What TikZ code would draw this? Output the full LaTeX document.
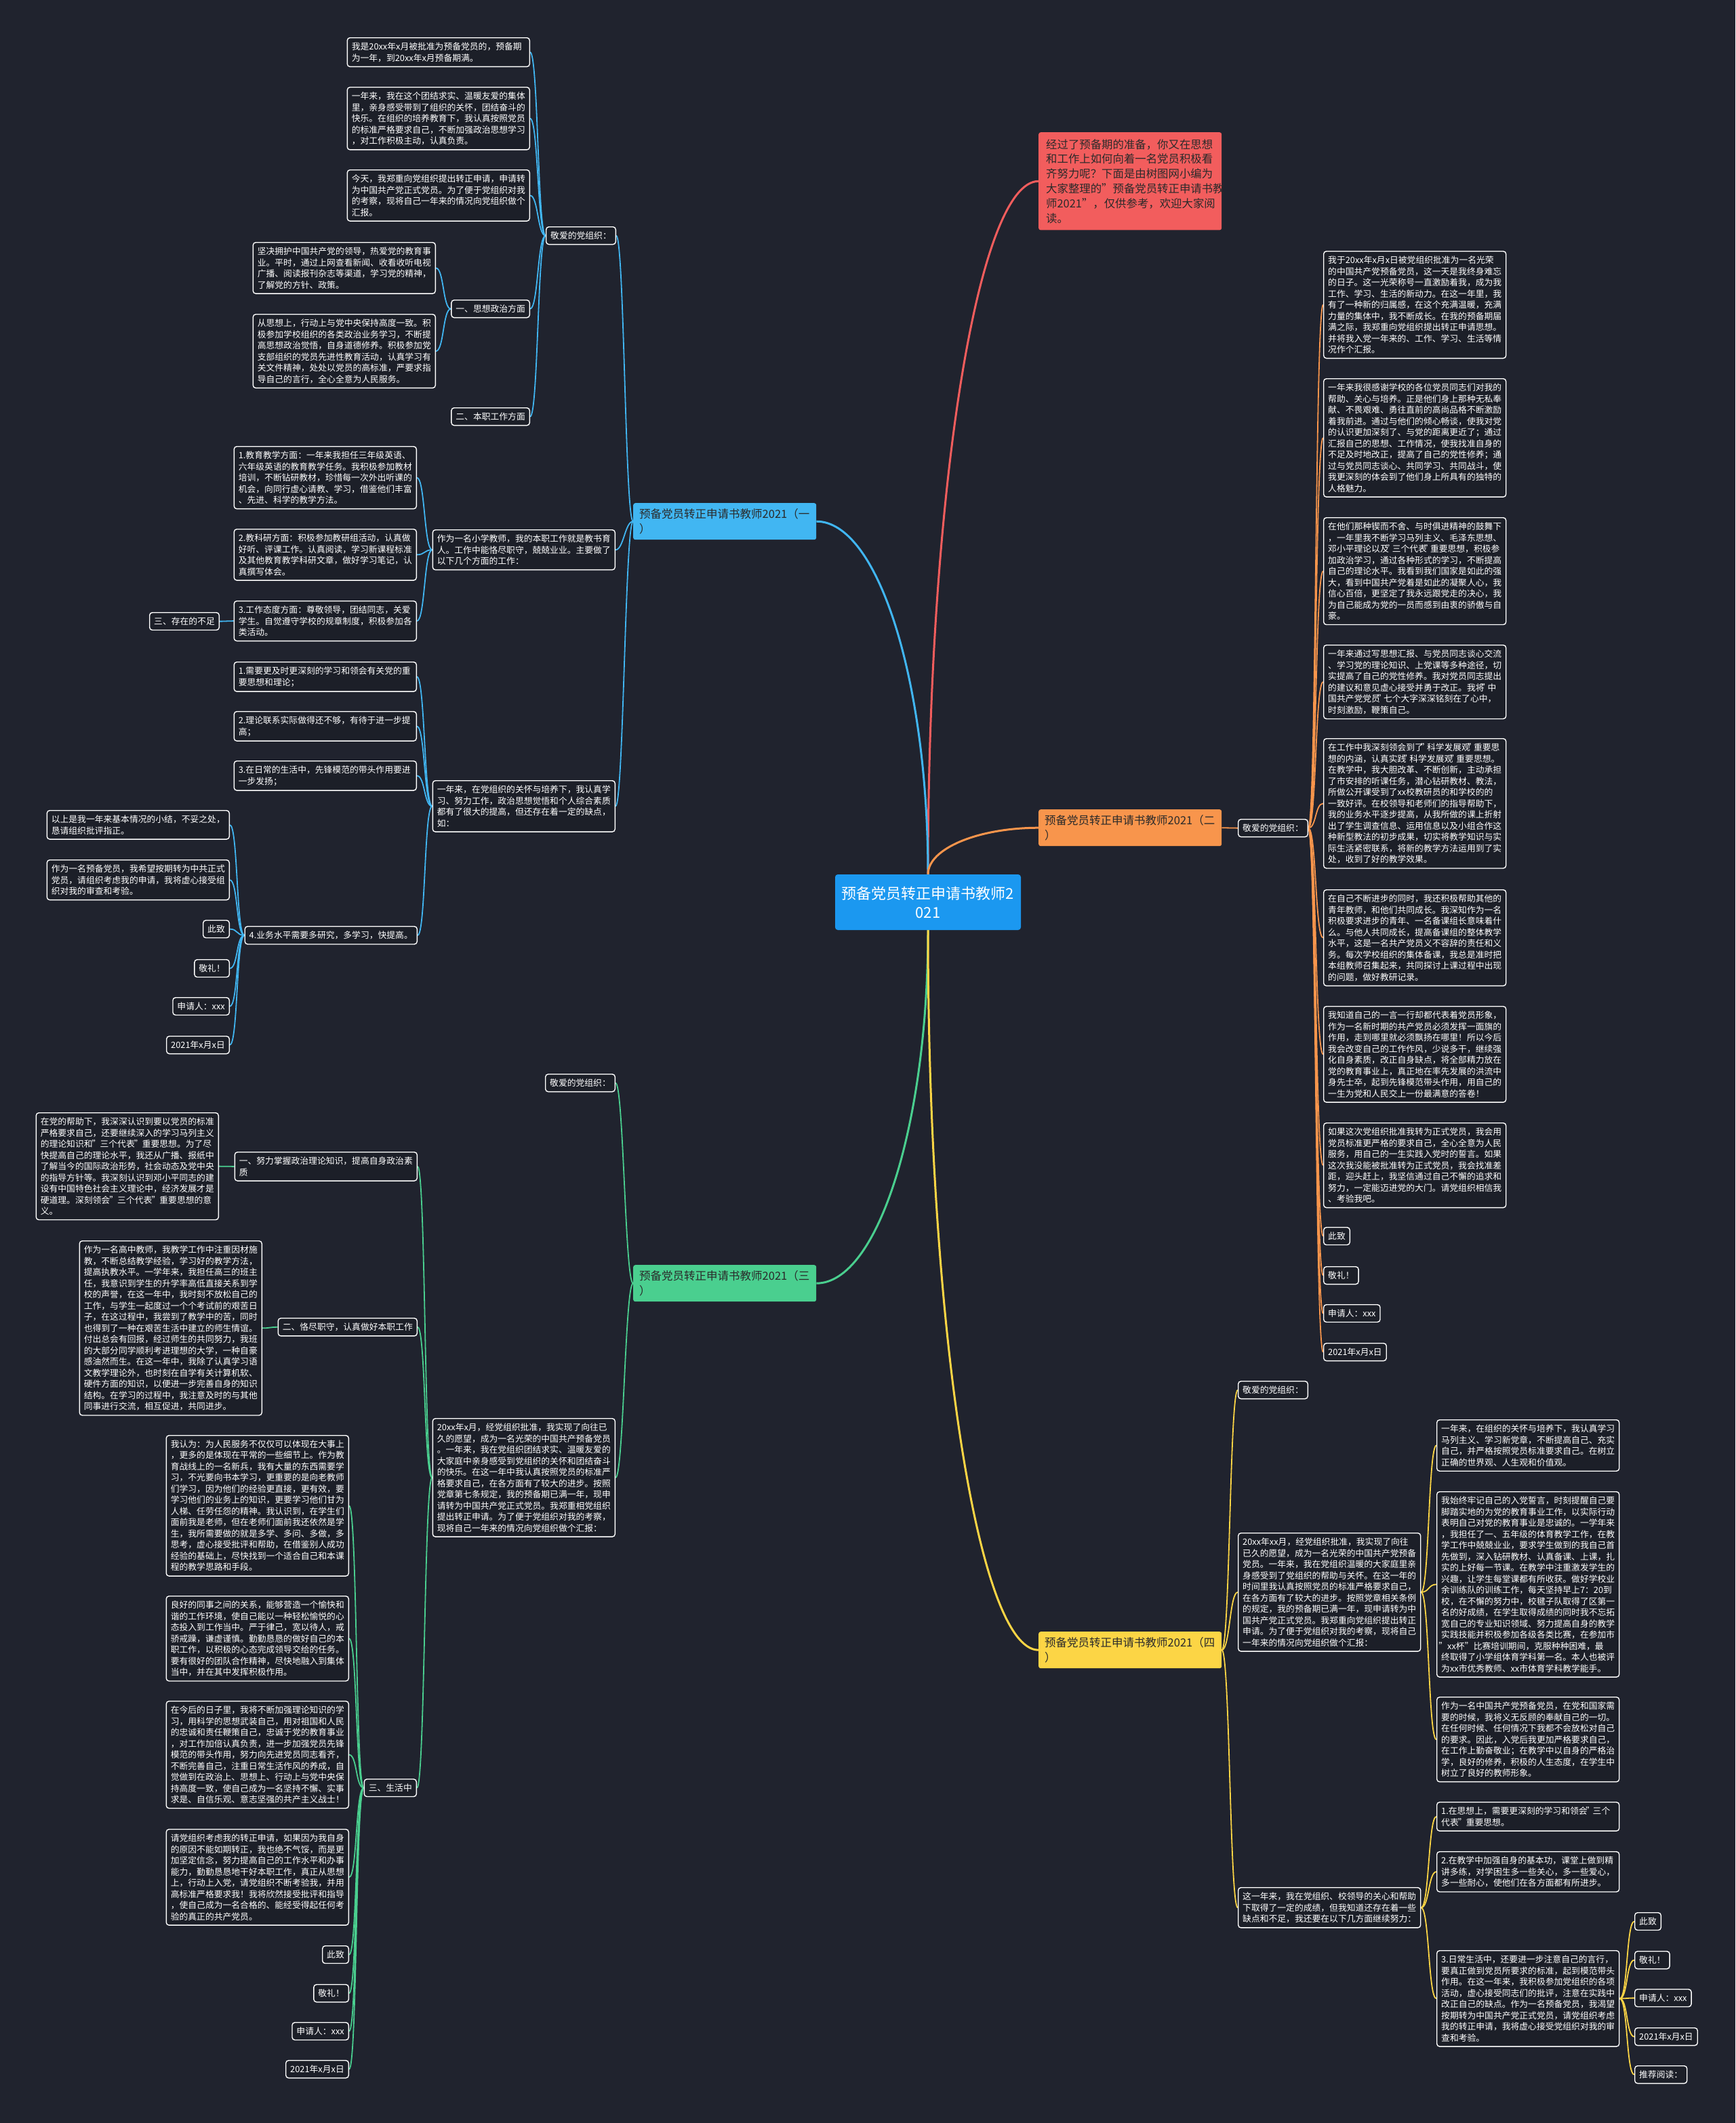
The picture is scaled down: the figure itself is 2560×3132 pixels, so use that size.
\documentclass[tikz,border=0pt]{standalone}
\usepackage{fontspec}
\setmainfont{Noto Sans CJK SC}
\usetikzlibrary{calc,backgrounds}
\definecolor{bgc}{HTML}{20232E}
\definecolor{boxc}{HTML}{1C1F28}
\definecolor{rootc}{HTML}{1B98F0}
\definecolor{bluel}{HTML}{41B6F2}
\definecolor{orangel}{HTML}{F8954C}
\definecolor{greenl}{HTML}{4ACF8F}
\definecolor{yellowl}{HTML}{FCD545}
\definecolor{redl}{HTML}{F25D5D}
\definecolor{darkt}{HTML}{2A2A2A}
\newcommand\dq{\makebox[5pt][c]{"}}
\newcommand\lnkL[3]{\draw[wire,#1] (#2.west) .. controls +(-12,0) and +(12,0) .. (#3.east);}
\newcommand\lnkR[3]{\draw[wire,#1] (#2.east) .. controls +(12,0) and +(-12,0) .. (#3.west);}
\newcommand\trunkln[3]{\draw[trunkw,#1] (#2) .. controls ($(#2)!.55!(#2|-#3)$) and ($(#3)!.55!(#2|-#3)$) .. (#3);}

\begin{document}
\begin{tikzpicture}[x=1pt, y=-1pt,
  leafbox/.style={draw=white, line width=1.4pt, fill=boxc, text=white, rounded corners=4pt, align=left, inner xsep=6.5pt, inner ysep=7pt, font=\fontsize{12.8}{16.5}\selectfont},
  parabox/.style={leafbox, text width=256pt},
  brbox/.style={rounded corners=3pt, text=darkt, align=left, text width=252pt, inner xsep=9pt, inner ysep=7.5pt, minimum height=54pt, font=\fontsize{16.5}{22}\selectfont},
  rootbox/.style={fill=rootc, text=white, rounded corners=4pt, align=center, minimum width=274pt, minimum height=82pt, font=\fontsize{22}{28}\selectfont},
  wire/.style={line width=1.8pt},
  trunkw/.style={line width=3pt}]

\node[rootbox] (root) at (1369,1331) {预备党员转正申请书教师2\\021};
\node[brbox, fill=redl, text width=248pt, inner xsep=11pt, inner ysep=10pt, font=\fontsize{16.4}{21.8}\selectfont, anchor=north west] (intro) at (1532,195) {经过了预备期的准备，你又在思想\\和工作上如何向着一名党员积极看\\齐努力呢？下面是由树图网小编为\\大家整理的"预备党员转正申请书教\\师2021"，仅供参考，欢迎大家阅\\读。};
\node[brbox, fill=bluel, anchor=north west] (b1) at (934,742) {预备党员转正申请书教师2021（一\\）};
\node[brbox, fill=orangel, anchor=north west] (b2) at (1532,1194) {预备党员转正申请书教师2021（二\\）};
\node[brbox, fill=greenl, anchor=north west] (b3) at (934,1866) {预备党员转正申请书教师2021（三\\）};
\node[brbox, fill=yellowl, anchor=north west] (b4) at (1532,2407) {预备党员转正申请书教师2021（四\\）};

\node[leafbox, anchor=north east] (b1dear) at (909,334) {敬爱的党组织：};
\node[parabox, anchor=north east] (b1p1) at (782,55) {我是20xx年x月被批准为预备党员的，预备期\\为一年，到20xx年x月预备期满。};
\node[parabox, anchor=north east] (b1p2) at (782,128) {一年来，我在这个团结求实、温暖友爱的集体\\里，亲身感受带到了组织的关怀，团结奋斗的\\快乐。在组织的培养教育下，我认真按照党员\\的标准严格要求自己，不断加强政治思想学习\\，对工作积极主动，认真负责。};
\node[parabox, anchor=north east] (b1p3) at (782,250) {今天，我郑重向党组织提出转正申请，申请转\\为中国共产党正式党员。为了便于党组织对我\\的考察，现将自己一年来的情况向党组织做个\\汇报。};
\node[leafbox, anchor=north east] (b1s1) at (782,442) {一、思想政治方面};
\node[leafbox, anchor=north east] (b1s2) at (782,601) {二、本职工作方面};
\node[parabox, anchor=north east] (b1s1a) at (643,357) {坚决拥护中国共产党的领导，热爱党的教育事\\业。平时，通过上网查看新闻、收看收听电视\\广播、阅读报刊杂志等渠道，学习党的精神，\\了解党的方针、政策。};
\node[parabox, anchor=north east] (b1s1b) at (643,463) {从思想上，行动上与党中央保持高度一致。积\\极参加学校组织的各类政治业务学习，不断提\\高思想政治觉悟，自身道德修养。积极参加党\\支部组织的党员先进性教育活动，认真学习有\\关文件精神，处处以党员的高标准，严要求指\\导自己的言行，全心全意为人民服务。};
\node[parabox, anchor=north east] (b1w) at (908,781) {作为一名小学教师，我的本职工作就是教书育\\人。工作中能恪尽职守，兢兢业业。主要做了\\以下几个方面的工作：};
\node[parabox, anchor=north east] (b1w1) at (615,658) {1.教育教学方面：一年来我担任三年级英语、\\六年级英语的教育教学任务。我积极参加教材\\培训，不断钻研教材，珍惜每一次外出听课的\\机会，向同行虚心请教、学习，借鉴他们丰富\\、先进、科学的教学方法。};
\node[parabox, anchor=north east] (b1w2) at (615,780) {2.教科研方面：积极参加教研组活动，认真做\\好听、评课工作。认真阅读，学习新课程标准\\及其他教育教学科研文章，做好学习笔记，认\\真撰写体会。};
\node[parabox, anchor=north east] (b1w3) at (615,886) {3.工作态度方面：尊敬领导，团结同志，关爱\\学生。自觉遵守学校的规章制度，积极参加各\\类活动。};
\node[leafbox, anchor=north east] (b1w3a) at (324,903) {三、存在的不足};
\node[parabox, anchor=north east] (b1y) at (908,1151) {一年来，在党组织的关怀与培养下，我认真学\\习、努力工作，政治思想觉悟和个人综合素质\\都有了很大的提高，但还存在着一定的缺点，\\如：};
\node[parabox, anchor=north east] (b1y1) at (615,976) {1.需要更及时更深刻的学习和领会有关党的重\\要思想和理论；};
\node[parabox, anchor=north east] (b1y2) at (615,1049) {2.理论联系实际做得还不够，有待于进一步提\\高；};
\node[parabox, anchor=north east] (b1y3) at (615,1122) {3.在日常的生活中，先锋模范的带头作用要进\\一步发扬；};
\node[leafbox, anchor=north east] (b1y4) at (616,1366) {4.业务水平需要多研究，多学习，快提高。};
\node[parabox, anchor=north east] (b1z1) at (339,1195) {以上是我一年来基本情况的小结，不妥之处，\\恳请组织批评指正。};
\node[parabox, anchor=north east] (b1z2) at (339,1268) {作为一名预备党员，我希望按期转为中共正式\\党员，请组织考虑我的申请，我将虚心接受组\\织对我的审查和考验。};
\node[leafbox, anchor=north east] (b1z3) at (339,1357) {此致};
\node[leafbox, anchor=north east] (b1z4) at (339,1415) {敬礼！};
\node[leafbox, anchor=north east] (b1z5) at (339,1471) {申请人：xxx};
\node[leafbox, anchor=north east] (b1z6) at (339,1528) {2021年x月x日};

\node[leafbox, anchor=north west] (b2dear) at (1826,1208) {敬爱的党组织：};
\node[parabox, anchor=north west] (b2p1) at (1952,370) {我于20xx年x月x日被党组织批准为一名光荣\\的中国共产党预备党员，这一天是我终身难忘\\的日子。这一光荣称号一直激励着我，成为我\\工作、学习、生活的新动力。在这一年里，我\\有了一种新的归属感，在这个充满温暖，充满\\力量的集体中，我不断成长。在我的预备期届\\满之际，我郑重向党组织提出转正申请思想。\\并将我入党一年来的、工作、学习、生活等情\\况作个汇报。};
\node[parabox, anchor=north west] (b2p2) at (1952,558) {一年来我很感谢学校的各位党员同志们对我的\\帮助、关心与培养。正是他们身上那种无私奉\\献、不畏艰难、勇往直前的高尚品格不断激励\\着我前进。通过与他们的倾心畅谈，使我对党\\的认识更加深刻了、与党的距离更近了；通过\\汇报自己的思想、工作情况，使我找准自身的\\不足及时地改正，提高了自己的党性修养；通\\过与党员同志谈心、共同学习、共同战斗，使\\我更深刻的体会到了他们身上所具有的独特的\\人格魅力。};
\node[parabox, anchor=north west] (b2p3) at (1952,763) {在他们那种锲而不舍、与时俱进精神的鼓舞下\\，一年里我不断学习马列主义、毛泽东思想、\\邓小平理论以及\dq 三个代表\dq 重要思想，积极参\\加政治学习，通过各种形式的学习，不断提高\\自己的理论水平。我看到我们国家是如此的强\\大，看到中国共产党着是如此的凝聚人心，我\\信心百倍，更坚定了我永远跟党走的决心，我\\为自己能成为党的一员而感到由衷的骄傲与自\\豪。};
\node[parabox, anchor=north west] (b2p4) at (1952,951) {一年来通过写思想汇报、与党员同志谈心交流\\、学习党的理论知识、上党课等多种途径，切\\实提高了自己的党性修养。我对党员同志提出\\的建议和意见虚心接受并勇于改正。我将\dq 中\\国共产党党员\dq 七个大字深深铭刻在了心中，\\时刻激励，鞭策自己。};
\node[parabox, anchor=north west] (b2p5) at (1952,1089) {在工作中我深刻领会到了\dq 科学发展观\dq 重要思\\想的内涵，认真实践\dq 科学发展观\dq 重要思想。\\在教学中，我大胆改革、不断创新，主动承担\\了市安排的听课任务，潜心钻研教材、教法，\\所做公开课受到了xx校教研员的和学校的的\\一致好评。在校领导和老师们的指导帮助下，\\我的业务水平逐步提高，从我所做的课上折射\\出了学生调查信息、运用信息以及小组合作这\\种新型教法的初步成果，切实将教学知识与实\\际生活紧密联系，将新的教学方法运用到了实\\处，收到了好的教学效果。};
\node[parabox, anchor=north west] (b2p6) at (1952,1312) {在自己不断进步的同时，我还积极帮助其他的\\青年教师，和他们共同成长。我深知作为一名\\积极要求进步的青年、一名备课组长意味着什\\么。与他人共同成长，提高备课组的整体教学\\水平，这是一名共产党员义不容辞的责任和义\\务。每次学校组织的集体备课，我总是准时把\\本组教师召集起来，共同探讨上课过程中出现\\的问题，做好教研记录。};
\node[parabox, anchor=north west] (b2p7) at (1952,1484) {我知道自己的一言一行却都代表着党员形象，\\作为一名新时期的共产党员必须发挥一面旗的\\作用，走到哪里就必须飘扬在哪里！所以今后\\我会改变自己的工作作风，少说多干，继续强\\化自身素质，改正自身缺点，将全部精力放在\\党的教育事业上，真正地在率先发展的洪流中\\身先士卒，起到先锋模范带头作用，用自己的\\一生为党和人民交上一份最满意的答卷！};
\node[parabox, anchor=north west] (b2p8) at (1952,1656) {如果这次党组织批准我转为正式党员，我会用\\党员标准更严格的要求自己，全心全意为人民\\服务，用自己的一生实践入党时的誓言。如果\\这次我没能被批准转为正式党员，我会找准差\\距，迎头赶上，我坚信通过自己不懈的追求和\\努力，一定能迈进党的大门。请党组织相信我\\、考验我吧。};
\node[leafbox, anchor=north west] (b2z1) at (1952,1810) {此致};
\node[leafbox, anchor=north west] (b2z2) at (1952,1868) {敬礼！};
\node[leafbox, anchor=north west] (b2z3) at (1952,1924) {申请人：xxx};
\node[leafbox, anchor=north west] (b2z4) at (1952,1981) {2021年x月x日};

\node[leafbox, anchor=north east] (b3dear) at (908,1584) {敬爱的党组织：};
\node[parabox, anchor=north east] (b3x) at (908,2092) {20xx年x月，经党组织批准，我实现了向往已\\久的愿望，成为一名光荣的中国共产预备党员\\。一年来，我在党组织团结求实、温暖友爱的\\大家庭中亲身感受到党组织的关怀和团结奋斗\\的快乐。在这一年中我认真按照党员的标准严\\格要求自己，在各方面有了较大的进步。按照\\党章第七条规定，我的预备期已满一年，现申\\请转为中国共产党正式党员。我郑重相党组织\\提出转正申请。为了便于党组织对我的考察，\\现将自己一年来的情况向党组织做个汇报：};
\node[parabox, anchor=north east] (b3s1) at (616,1699) {一、努力掌握政治理论知识，提高自身政治素\\质};
\node[parabox, anchor=north east] (b3s1a) at (323,1641) {在党的帮助下，我深深认识到要以党员的标准\\严格要求自己，还要继续深入的学习马列主义\\的理论知识和\kern3pt\dq\kern3pt 三个代表\kern3pt\dq\kern3pt 重要思想。为了尽\\快提高自己的理论水平，我还从广播、报纸中\\了解当今的国际政治形势，社会动态及党中央\\的指导方针等。我深刻认识到邓小平同志的建\\设有中国特色社会主义理论中，经济发展才是\\硬道理。深刻领会\kern3pt\dq\kern3pt 三个代表\kern3pt\dq\kern3pt 重要思想的意\\义。};
\node[leafbox, anchor=north east] (b3s2) at (616,1944) {二、恪尽职守，认真做好本职工作};
\node[parabox, anchor=north east] (b3s2a) at (387,1830) {作为一名高中教师，我教学工作中注重因材施\\教，不断总结教学经验，学习好的教学方法，\\提高执教水平。一学年来，我担任高三的班主\\任，我意识到学生的升学率高低直接关系到学\\校的声誉，在这一年中，我时刻不放松自己的\\工作，与学生一起度过一个个考试前的艰苦日\\子，在这过程中，我尝到了教学中的苦，同时\\也得到了一种在艰苦生活中建立的师生情谊。\\付出总会有回报，经过师生的共同努力，我班\\的大部分同学顺利考进理想的大学，一种自豪\\感油然而生。在这一年中，我除了认真学习语\\文教学理论外，也时刻在自学有关计算机软、\\硬件方面的知识，以便进一步完善自身的知识\\结构。在学习的过程中，我注意及时的与其他\\同事进行交流，相互促进，共同进步。};
\node[leafbox, anchor=north east] (b3s3) at (615,2624) {三、生活中};
\node[parabox, anchor=north east] (b3s3a) at (515,2117) {我认为：为人民服务不仅仅可以体现在大事上\\，更多的是体现在平常的一些细节上。作为教\\育战线上的一名新兵，我有大量的东西需要学\\习，不光要向书本学习，更重要的是向老教师\\们学习，因为他们的经验更直接，更有效，要\\学习他们的业务上的知识，更要学习他们甘为\\人梯、任劳任怨的精神。我认识到，在学生们\\面前我是老师，但在老师们面前我还依然是学\\生，我所需要做的就是多学、多问、多做，多\\思考，虚心接受批评和帮助，在借鉴别人成功\\经验的基础上，尽快找到一个适合自己和本课\\程的教学思路和手段。};
\node[parabox, anchor=north east] (b3s3b) at (515,2354) {良好的同事之间的关系，能够营造一个愉快和\\谐的工作环境，使自己能以一种轻松愉悦的心\\态投入到工作当中。严于律己，宽以待人，戒\\骄戒躁，谦虚谨慎。勤勤恳恳的做好自己的本\\职工作，以积极的心态完成领导交给的任务。\\要有很好的团队合作精神，尽快地融入到集体\\当中，并在其中发挥积极作用。};
\node[parabox, anchor=north east] (b3s3c) at (515,2509) {在今后的日子里，我将不断加强理论知识的学\\习，用科学的思想武装自己，用对祖国和人民\\的忠诚和责任鞭策自己，忠诚于党的教育事业\\，对工作加倍认真负责，进一步加强党员先锋\\模范的带头作用，努力向先进党员同志看齐，\\不断完善自己，注重日常生活作风的养成，自\\觉做到在政治上、思想上、行动上与党中央保\\持高度一致，使自己成为一名坚持不懈、实事\\求是、自信乐观、意志坚强的共产主义战士！};
\node[parabox, anchor=north east] (b3s3d) at (515,2698) {请党组织考虑我的转正申请，如果因为我自身\\的原因不能如期转正，我也绝不气馁，而是更\\加坚定信念，努力提高自己的工作水平和办事\\能力，勤勤恳恳地干好本职工作，真正从思想\\上，行动上入党，请党组织不断考验我，并用\\高标准严格要求我！我将欣然接受批评和指导\\，使自己成为一名合格的、能经受得起任何考\\验的真正的共产党员。};
\node[leafbox, anchor=north east] (b3s3e) at (515,2870) {此致};
\node[leafbox, anchor=north east] (b3s3f) at (515,2927) {敬礼！};
\node[leafbox, anchor=north east] (b3s3g) at (515,2983) {申请人：xxx};
\node[leafbox, anchor=north east] (b3s3h) at (515,3039) {2021年x月x日};

\node[leafbox, anchor=north west] (b4dear) at (1826,2037) {敬爱的党组织：};
\node[parabox, anchor=north west] (b4x) at (1826,2261) {20xx年xx月，经党组织批准，我实现了向往\\已久的愿望，成为一名光荣的中国共产党预备\\党员。一年来，我在党组织温暖的大家庭里亲\\身感受到了党组织的帮助与关怀。在这一年的\\时间里我认真按照党员的标准严格要求自己，\\在各方面有了较大的进步。按照党章相关条例\\的规定，我的预备期已满一年，现申请转为中\\国共产党正式党员。我郑重向党组织提出转正\\申请。为了便于党组织对我的考察，现将自己\\一年来的情况向党组织做个汇报：};
\node[parabox, anchor=north west] (b4x1) at (2119,2094) {一年来，在组织的关怀与培养下，我认真学习\\马列主义、学习新党章，不断提高自己、充实\\自己，并严格按照党员标准要求自己。在树立\\正确的世界观、人生观和价值观。};
\node[parabox, anchor=north west] (b4x2) at (2119,2200) {我始终牢记自己的入党誓言，时刻提醒自己要\\脚踏实地的为党的教育事业工作，以实际行动\\表明自己对党的教育事业是忠诚的。一学年来\\，我担任了一、五年级的体育教学工作，在教\\学工作中兢兢业业，要求学生做到的我自己首\\先做到，深入钻研教材、认真备课、上课，扎\\实的上好每一节课。在教学中注重激发学生的\\兴趣，让学生每堂课都有所收获。做好学校业\\余训练队的训练工作，每天坚持早上7：20到\\校，在不懈的努力中，校毽子队取得了区第一\\名的好成绩，在学生取得成绩的同时我不忘拓\\宽自己的专业知识领域、努力提高自身的教学\\实践技能并积极参加各级各类比赛，在参加市\\\dq\kern4pt xx杯\kern4pt\dq\kern4pt 比赛培训期间，克服种种困难，最\\终取得了小学组体育学科第一名。本人也被评\\为xx市优秀教师、xx市体育学科教学能手。};
\node[parabox, anchor=north west] (b4x3) at (2119,2503) {作为一名中国共产党预备党员，在党和国家需\\要的时候，我将义无反顾的奉献自己的一切。\\在任何时候、任何情况下我都不会放松对自己\\的要求。因此，入党后我更加严格要求自己，\\在工作上勤奋敬业；在教学中以自身的严格治\\学，良好的修养，积极的人生态度，在学生中\\树立了良好的教师形象。};
\node[parabox, anchor=north west] (b4y) at (1826,2784) {这一年来，我在党组织、校领导的关心和帮助\\下取得了一定的成绩，但我知道还存在着一些\\缺点和不足，我还要在以下几方面继续努力：};
\node[parabox, anchor=north west] (b4y1) at (2119,2658) {1.在思想上，需要更深刻的学习和领会\kern1.5pt\dq\kern1.5pt 三个\\代表\kern3pt\dq\kern3pt 重要思想。};
\node[parabox, anchor=north west] (b4y2) at (2119,2731) {2.在教学中加强自身的基本功，课堂上做到精\\讲多练，对学困生多一些关心，多一些爱心，\\多一些耐心，使他们在各方面都有所进步。};
\node[parabox, anchor=north west] (b4y3) at (2119,2877) {3.日常生活中，还要进一步注意自己的言行，\\要真正做到党员所要求的标准，起到模范带头\\作用。在这一年来，我积极参加党组织的各项\\活动，虚心接受同志们的批评，注意在实践中\\改正自己的缺点。作为一名预备党员，我渴望\\按期转为中国共产党正式党员，请党组织考虑\\我的转正申请，我将虚心接受党组织对我的审\\查和考验。};
\node[leafbox, anchor=north west] (b4z1) at (2411,2821) {此致};
\node[leafbox, anchor=north west] (b4z2) at (2411,2878) {敬礼！};
\node[leafbox, anchor=north west] (b4z3) at (2411,2934) {申请人：xxx};
\node[leafbox, anchor=north west] (b4z4) at (2411,2991) {2021年x月x日};
\node[leafbox, anchor=north west] (b4z5) at (2411,3047) {推荐阅读：};

\begin{pgfonlayer}{background}
\fill[bgc] (0,0) rectangle (2560,3132);
\trunkln{redl}{root.north}{intro.west}
\trunkln{bluel}{root.north}{b1.east}
\trunkln{orangel}{root.north}{b2.west}
\trunkln{greenl}{root.south}{b3.east}
\trunkln{yellowl}{root.south}{b4.west}
\foreach \c in {b1dear,b1w,b1y} {\lnkL{bluel}{b1}{\c}}
\foreach \c in {b1p1,b1p2,b1p3,b1s1,b1s2} {\lnkL{bluel}{b1dear}{\c}}
\foreach \c in {b1s1a,b1s1b} {\lnkL{bluel}{b1s1}{\c}}
\foreach \c in {b1w1,b1w2,b1w3} {\lnkL{bluel}{b1w}{\c}}
\lnkL{bluel}{b1w3}{b1w3a}
\foreach \c in {b1y1,b1y2,b1y3,b1y4} {\lnkL{bluel}{b1y}{\c}}
\foreach \c in {b1z1,b1z2,b1z3,b1z4,b1z5,b1z6} {\lnkL{bluel}{b1y4}{\c}}
\lnkR{orangel}{b2}{b2dear}
\foreach \c in {b2p1,b2p2,b2p3,b2p4,b2p5,b2p6,b2p7,b2p8,b2z1,b2z2,b2z3,b2z4} {\lnkR{orangel}{b2dear}{\c}}
\foreach \c in {b3dear,b3x} {\lnkL{greenl}{b3}{\c}}
\foreach \c in {b3s1,b3s2,b3s3} {\lnkL{greenl}{b3x}{\c}}
\lnkL{greenl}{b3s1}{b3s1a}
\lnkL{greenl}{b3s2}{b3s2a}
\foreach \c in {b3s3a,b3s3b,b3s3c,b3s3d,b3s3e,b3s3f,b3s3g,b3s3h} {\lnkL{greenl}{b3s3}{\c}}
\foreach \c in {b4dear,b4x,b4y} {\lnkR{yellowl}{b4}{\c}}
\foreach \c in {b4x1,b4x2,b4x3} {\lnkR{yellowl}{b4x}{\c}}
\foreach \c in {b4y1,b4y2,b4y3} {\lnkR{yellowl}{b4y}{\c}}
\foreach \c in {b4z1,b4z2,b4z3,b4z4,b4z5} {\lnkR{yellowl}{b4y3}{\c}}
\end{pgfonlayer}
\end{tikzpicture}
\end{document}
